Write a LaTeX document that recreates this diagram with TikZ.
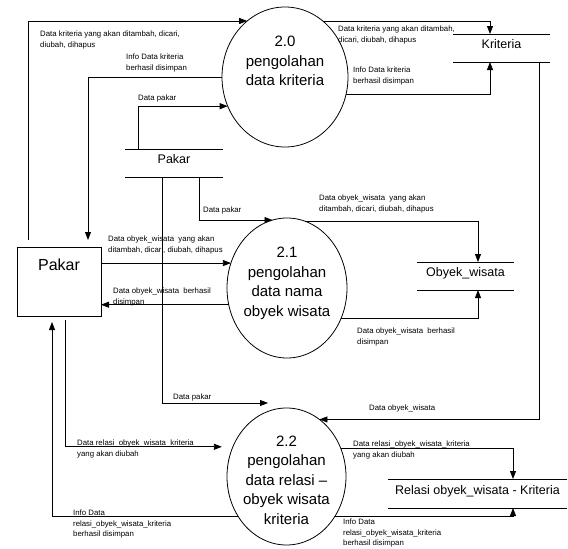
\documentclass[tikz,border=0pt]{standalone}
\usepackage{fontspec}
\setmainfont{Liberation Sans}
\usetikzlibrary{shapes.geometric,arrows.meta}

% centred multi-line process text of zero size, optionally raised
\newcommand\proclabel[2][0pt]{\smash{\raisebox{#1}{\makebox[0pt]{\fontsize{15}{19.5}\selectfont\begin{tabular}{@{}c@{}}#2\end{tabular}}}}}

\tikzset{
  link/.style={draw=black, line width=0.8pt},
  flow/.style={link, -{Triangle[length=8pt,width=6pt]}},
  proc/.style={ellipse, draw=black, line width=0.8pt, inner sep=0pt, outer sep=0pt},
  ext/.style={rectangle, draw=black, line width=0.8pt, inner sep=0pt, outer sep=0pt,
    minimum width=84pt, minimum height=69pt, text height=12pt, text depth=34pt,
    font=\fontsize{16}{19}\selectfont},
  store/.style={rectangle, inner sep=0pt, outer sep=0pt, minimum height=28pt,
    text height=9pt, text depth=8pt, font=\fontsize{12.5}{15}\selectfont},
  note/.style={anchor=north west, inner sep=0pt, align=left,
    font=\fontsize{7.8}{10.5}\selectfont},
}

\begin{document}
\begin{tikzpicture}[x=1pt, y=-1pt]
\useasboundingbox[fill=white] (0,0) rectangle (568,549);

% external entity
\node[ext] (pakar) at (59,281.5) {Pakar};

% data stores
\node[store, minimum width=98pt] (ps) at (174,163) {Pakar};
\node[store, minimum width=97pt] (ks) at (501.5,48) {Kriteria};
\node[store, minimum width=97pt] (os) at (465.5,276) {Obyek\_wisata};
\node[store, minimum width=179pt, minimum height=29pt] (rs) at (477.5,493.5) {Relasi obyek\_wisata - Kriteria};
\foreach \s in {ps,ks,os,rs}{
  \draw[link] (\s.north west) -- (\s.north east);
  \draw[link] (\s.south west) -- (\s.south east);
}

% processes
\node[proc, minimum width=126pt, minimum height=140pt] (p20) at (285,77)
  {\proclabel[11pt]{2.0\\pengolahan\\data kriteria}};
\node[proc, minimum width=120pt, minimum height=140pt] (p21) at (287,288)
  {\proclabel[1.5pt]{2.1\\pengolahan\\data nama\\obyek wisata}};
\node[proc, minimum width=119pt, minimum height=137pt] (p22) at (286.5,476.5)
  {\proclabel[-8.5pt]{2.2\\pengolahan\\data relasi –\\obyek wisata\\kriteria}};

% free ends near the entity and the processes
\coordinate (a1) at ([xshift=11pt,yshift=7pt]pakar.north west);
\coordinate (a2) at ([xshift=71pt,yshift=7pt]pakar.north west);
\coordinate (a13) at ([xshift=48pt,yshift=-4pt]pakar.south west);
\coordinate (a14) at ([xshift=35pt,yshift=-6pt]pakar.south west);
\coordinate (e8) at ([xshift=-18.5pt,yshift=5pt]p22.north);
\coordinate (e13) at ([xshift=-11pt]p22.151);

% process 2.0
\draw[flow] (a1) |- (p20.124);
\draw[flow] (p20.west) -| (a2);
\draw[flow] ([xshift=13pt]ps.north west) |- (p20.207);
\draw[flow] (p20.56) -| ([xshift=37pt]ks.north west);
\draw[flow] (p20.344) -| ([xshift=37pt]ks.south west);

% process 2.1
\draw[flow] ([xshift=74pt]ps.south west) |- (p21.102);
\draw[flow] (p21.156 -| pakar.east) -- (p21.156);
\draw[flow] (p21.196) -- (p21.196 -| pakar.east);
\draw[flow] (p21.75) -| ([xshift=61pt]os.north west);
\draw[flow] (p21.331) -| ([xshift=61pt]os.south west);

% process 2.2
\draw[flow] ([xshift=37pt]ps.south west) |- (e8);
\draw[flow] ([xshift=86pt]ks.south west) |- (p22.60);
\draw[flow] (a13) |- (e13);
\draw[flow] (p22.220) -| (a14);
\draw[flow] (p22.27) -| ([xshift=125pt]rs.north west);
\draw[flow] (p22.320) -| ([xshift=125pt]rs.south west);

% flow labels
\node[note] (l1) at (40,31) {Data kriteria yang akan ditambah, dicari,\\diubah, dihapus};
\node[note] (l2) at (126,54) {Info Data kriteria\\berhasil disimpan};
\node[note] (l3) at (138,95) {Data pakar};
\node[note] (l4) at (338,26) {Data kriteria yang akan ditambah,\\dicari, diubah, dihapus};
\node[note] (l5) at (353,67) {Info Data kriteria\\berhasil disimpan};
\node[note] (l6) at (203,207) {Data pakar};
\node[note] (l7) at (108,236) {Data obyek\_wisata \ yang akan\\ditambah, dicari, diubah, dihapus};
\node[note] (l8) at (113,288) {Data obyek\_wisata \ berhasil\\disimpan};
\node[note] (l9) at (319,195) {Data obyek\_wisata \ yang akan\\ditambah, dicari, diubah, dihapus};
\node[note] (l10) at (357,328) {Data obyek\_wisata \ berhasil\\disimpan};
\node[note] (l11) at (173,394) {Data pakar};
\node[note] (l12) at (369,405) {Data obyek\_wisata};
\node[note] (l13) at (77,440) {Data relasi\_obyek\_wisata\_kriteria\\yang akan diubah};
\node[note] (l14) at (353,441) {Data relasi\_obyek\_wisata\_kriteria\\yang akan diubah};
\node[note] (l15) at (73,510) {Info Data\\relasi\_obyek\_wisata\_kriteria\\berhasil disimpan};
\node[note] (l16) at (343,519) {Info Data\\relasi\_obyek\_wisata\_kriteria\\berhasil disimpan};
\end{tikzpicture}
\end{document}
